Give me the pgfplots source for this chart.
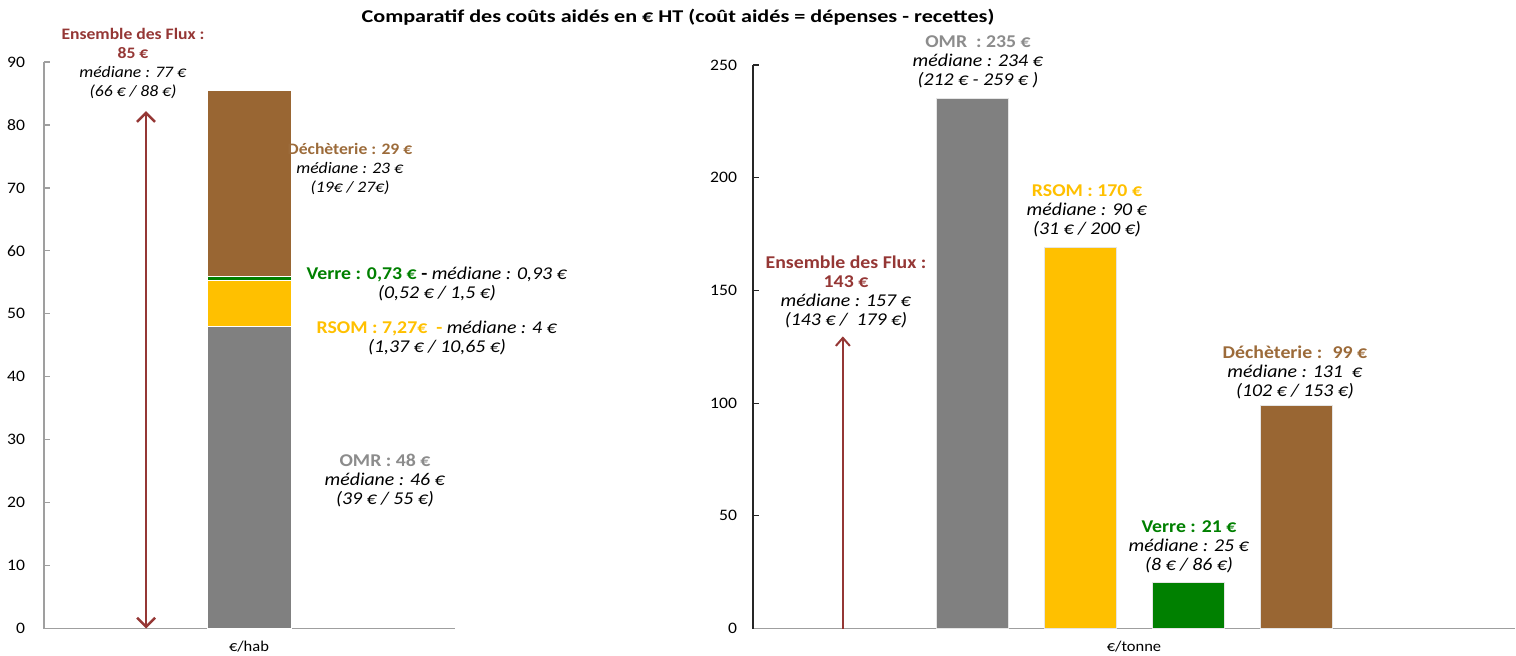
\documentclass[border=0pt]{standalone}
\usepackage{pgfplots}
\pgfplotsset{compat=1.18}
\usepackage{graphicx}
\usepackage{fontspec}
\setmainfont{Carlito}[FakeStretch=1.1]
\usetikzlibrary{arrows.meta}
\definecolor{omr}{HTML}{808080}
\definecolor{omrt}{HTML}{8C8C8C}
\definecolor{rsom}{HTML}{FFC000}
\definecolor{verre}{HTML}{008000}
\definecolor{dech}{HTML}{996633}
\definecolor{decht}{HTML}{9C6B3A}
\definecolor{ens}{HTML}{953735}
\pgfplotsset{
  base/.style={anchor=south west, scale only axis,
    axis x line=bottom, axis y line=left,
    tick align=inside, major tick length=3pt,
    xtick=\empty,
    /pgf/number format/assume math mode=true,
    ticklabel style={font=\fontsize{8}{9}\selectfont},
    clip=false},
}
\begin{document}
\begin{tikzpicture}
\useasboundingbox (0,0) rectangle (758pt,327.5pt);
% left stacked bar
\begin{axis}[base, at={(22pt,13.25pt)}, width=205.5pt, height=283.25pt,
  xmin=-2.44, xmax=2.45, ymin=0, ymax=90, ytick={0,10,...,90},
  yticklabel style={xshift=-6pt},
  axis line style={-, draw=gray!75, line width=0.6pt}, tick style={gray!75, line width=0.6pt},
  ybar stacked, bar width=1,
  every axis plot/.append style={draw=white, line width=0.4pt}]
\addplot[fill=omr] coordinates {(0,48)};
\addplot[fill=rsom] coordinates {(0,7.27)};
\addplot[fill=verre] coordinates {(0,0.73)};
\addplot[fill=dech] coordinates {(0,29.5)};
\end{axis}
\begin{axis}[at={(22pt,13.25pt)}, anchor=south west, scale only axis, width=205.5pt, height=283.25pt,
  xmin=-2.44, xmax=2.45, ymin=0, ymax=90, hide axis, clip=false]
\addplot[ens, line width=1.25pt, {Straight Barb[length=4.5pt,width=9pt]}-{Straight Barb[length=4.5pt,width=9pt]}] coordinates {(-1.226,0) (-1.226,82.2)};
\end{axis}
% right bars
\begin{axis}[base, at={(376.5pt,13.25pt)}, width=381pt, height=281.75pt,
  xmin=-1.032, xmax=6.023, ymin=0, ymax=250, ytick={0,50,...,250},
  yticklabel style={xshift=-4.5pt},
  axis line style={-}, x axis line style={draw=gray!75, line width=0.6pt},
  y axis line style={draw=black!85, line width=0.6pt}, tick style={black!85, line width=0.6pt}]
\addplot[ybar, bar width=0.667, bar shift=0pt, fill=omr, draw=gray!20] coordinates {(1,235)};
\addplot[ybar, bar width=0.667, bar shift=0pt, fill=rsom, draw=gray!20] coordinates {(2,169)};
\addplot[ybar, bar width=0.667, bar shift=0pt, fill=verre, draw=gray!20] coordinates {(3,20.5)};
\addplot[ybar, bar width=0.667, bar shift=0pt, fill=dech, draw=gray!20] coordinates {(4,99)};
\addplot[ens, line width=1pt, -{Straight Barb[length=4pt,width=7pt]}] coordinates {(-0.2,0) (-0.2,129.6)};
\end{axis}
\begin{scope}[x=0.5pt, y=-0.5pt, yshift=327.5pt,
  every node/.style={align=center, font=\fontsize{9}{9.5}\selectfont},
  small/.style={font=\fontsize{8}{9.5}\selectfont}]
\node[font=\bfseries\fontsize{9}{10}\selectfont, anchor=base] at (678,22.5) {\scalebox{1.12}[1]{Comparatif des coûts aidés en € HT (coût aidés = dépenses - recettes)}};
\node[font=\fontsize{7.5}{8}\selectfont] at (249,647) {€/hab};
\node[font=\fontsize{7.5}{8}\selectfont] at (1134,647) {€/tonne};
% left labels
\node[small] at (133,63) {\textbf{\color{ens}Ensemble des Flux :}\\\textbf{\color{ens}85 €}\\\textit{médiane : 77 €}\\\textit{(66 € / 88 €)}};
\node[small] at (350,168.5) {\textbf{\color{decht}Déchèterie : 29 €}\\\textit{médiane : 23 €}\\\textit{(19€ / 27€)}};
\node at (437,283.5) {\textbf{\color{verre}Verre : 0,73 €} \textbf{-} \textit{médiane : 0,93 €}\\\textit{(0,52 € / 1,5 €)}};
\node at (437,337.5) {\textbf{\color{rsom}RSOM : 7,27€ \ -} \textit{médiane : 4 €}\\\textit{(1,37 € / 10,65 €)}};
\node at (385,481) {\textbf{\color{omrt}OMR : 48 €}\\\textit{médiane : 46 €}\\\textit{(39 € / 55 €)}};
% right labels
\node at (978,62) {\textbf{\color{omrt}OMR \ : 235 €}\\\textit{médiane : 234 €}\\\textit{(212 € - 259 € )}};
\node at (1087,211) {\textbf{\color{rsom}RSOM : 170 €}\\\textit{médiane : 90 €}\\\textit{(31 € / 200 €)}};
\node at (846,291.5) {\textbf{\color{ens}Ensemble des Flux :}\\\textbf{\color{ens}143 €}\\\textit{médiane : 157 €}\\\textit{(143 € / \ 179 €)}};
\node at (1189,547) {\textbf{\color{verre}Verre : 21 €}\\\textit{médiane : 25 €}\\\textit{(8 € / 86 €)}};
\node at (1295,372) {\textbf{\color{decht}Déchèterie : \ 99 €}\\\textit{médiane : 131 \ €}\\\textit{(102 € / 153 €)}};
\end{scope}
\end{tikzpicture}
\end{document}
